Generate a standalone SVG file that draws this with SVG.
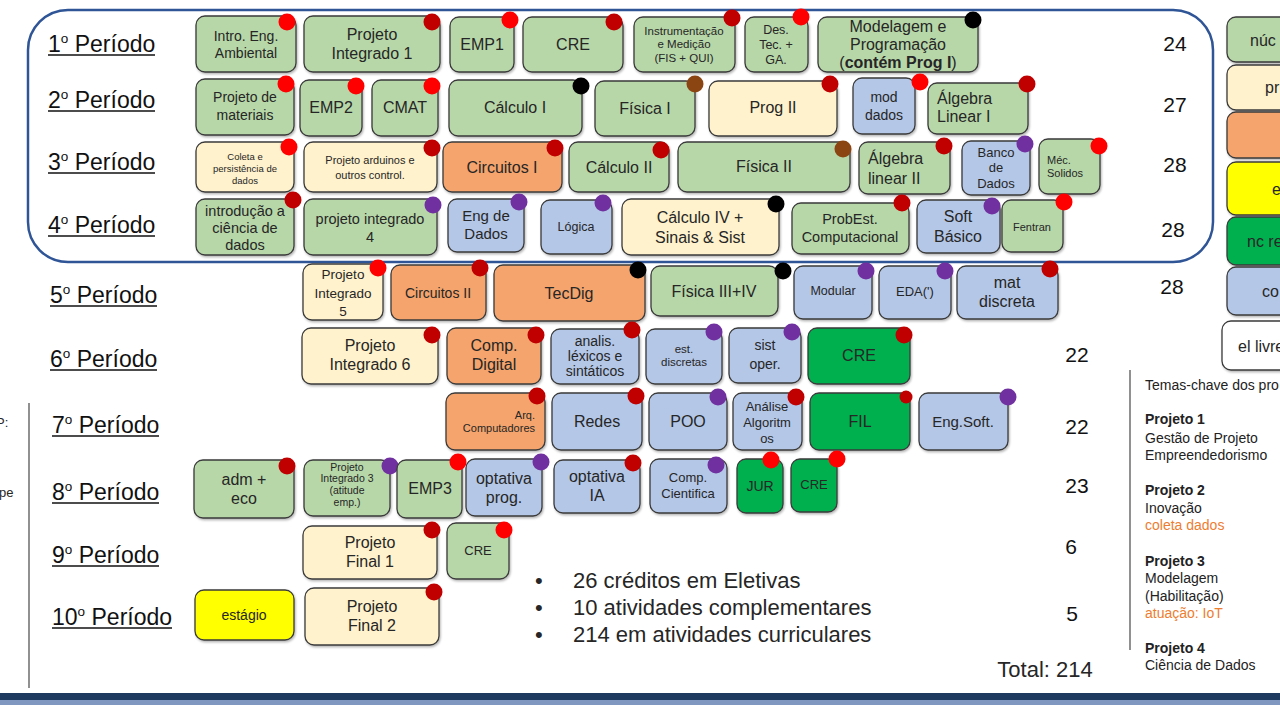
<svg xmlns="http://www.w3.org/2000/svg" width="1280" height="705" viewBox="0 0 1280 705">
<defs>
<filter id="sh" x="-10%" y="-10%" width="120%" height="130%"><feDropShadow dx="1" dy="1.5" stdDeviation="1" flood-color="#000" flood-opacity="0.3"/></filter>
</defs>
<style>
text{font-family:"Liberation Sans",Arial,sans-serif;fill:#262626;text-anchor:middle}
.nd rect{stroke:#3a3a3a;stroke-width:1.3;filter:url(#sh)}
.g{fill:#b7d7a8}.c{fill:#fff2cc}.o{fill:#f4a46c}.b{fill:#b4c7e7}.y{fill:#ffff00}.d{fill:#00b050}.w{fill:#ffffff}
.r{fill:#ff0000}.dr{fill:#c00000}.k{fill:#000000}.br{fill:#8b4513}.p{fill:#7030a0}
.per{font-size:23px;text-anchor:start;fill:#111}
.ul{stroke:#111;stroke-width:1.6}
.num{font-size:21px;fill:#111}
.rt{font-size:14px;text-anchor:start;fill:#222}
.rb{font-weight:bold}
.or{fill:#ed7d31}
.f16{font-size:16px}
</style>
<rect x="0" y="0" width="1280" height="705" fill="#ffffff"/>

<rect x="28" y="10" width="1185" height="252" rx="40" fill="none" stroke="#2f5597" stroke-width="2.5"/>
<line x1="29" y1="403" x2="29" y2="688" stroke="#555" stroke-width="1.3"/>
<line x1="1130" y1="370" x2="1130" y2="650" stroke="#555" stroke-width="1.3"/>
<rect x="0" y="693" width="1280" height="7" fill="#1e3a5f"/>
<rect x="0" y="700" width="1280" height="5" fill="#8098c0"/>

<g id="period-labels">
<text class="per" x="48" y="52">1<tspan font-size="13.5" dy="-9">o</tspan><tspan dy="9"> Período</tspan></text><line class="ul" x1="48" y1="55" x2="155" y2="55"/>
<text class="per" x="48" y="108">2<tspan font-size="13.5" dy="-9">o</tspan><tspan dy="9"> Período</tspan></text><line class="ul" x1="48" y1="111" x2="155" y2="111"/>
<text class="per" x="48" y="170">3<tspan font-size="13.5" dy="-9">o</tspan><tspan dy="9"> Período</tspan></text><line class="ul" x1="48" y1="173" x2="155" y2="173"/>
<text class="per" x="48" y="233">4<tspan font-size="13.5" dy="-9">o</tspan><tspan dy="9"> Período</tspan></text><line class="ul" x1="48" y1="236" x2="155" y2="236"/>
<text class="per" x="50" y="303">5<tspan font-size="13.5" dy="-9">o</tspan><tspan dy="9"> Período</tspan></text><line class="ul" x1="50" y1="306" x2="157" y2="306"/>
<text class="per" x="50" y="367">6<tspan font-size="13.5" dy="-9">o</tspan><tspan dy="9"> Período</tspan></text><line class="ul" x1="50" y1="370" x2="157" y2="370"/>
<text class="per" x="52" y="433">7<tspan font-size="13.5" dy="-9">o</tspan><tspan dy="9"> Período</tspan></text><line class="ul" x1="52" y1="436" x2="159" y2="436"/>
<text class="per" x="52" y="500">8<tspan font-size="13.5" dy="-9">o</tspan><tspan dy="9"> Período</tspan></text><line class="ul" x1="52" y1="503" x2="159" y2="503"/>
<text class="per" x="52" y="563">9<tspan font-size="13.5" dy="-9">o</tspan><tspan dy="9"> Período</tspan></text><line class="ul" x1="52" y1="566" x2="159" y2="566"/>
<text class="per" x="52" y="625">10<tspan font-size="13.5" dy="-9">o</tspan><tspan dy="9"> Período</tspan></text><line class="ul" x1="52" y1="628" x2="172" y2="628"/>
</g>

<g id="credits">
<text class="num" x="1175" y="51">24</text>
<text class="num" x="1175" y="112">27</text>
<text class="num" x="1175" y="172">28</text>
<text class="num" x="1173" y="237">28</text>
<text class="num" x="1172" y="294">28</text>
<text class="num" x="1077" y="362">22</text>
<text class="num" x="1077" y="434">22</text>
<text class="num" x="1077" y="493">23</text>
<text class="num" x="1071" y="554">6</text>
<text class="num" x="1072" y="621">5</text>
<text x="1045" y="677" font-size="22" fill="#111">Total: 214</text>
</g>

<g id="connectors"></g>

<!-- Row 1 -->
<g id="n-intro-eng" class="nd"><rect class="g" x="196" y="16" width="100" height="56" rx="9"/><text font-size="14"><tspan x="246" y="41">Intro. Eng.</tspan><tspan x="246" y="58">Ambiental</tspan></text><circle class="r" cx="287" cy="22" r="8.5"/></g>
<g id="n-pi1" class="nd"><rect class="g" x="304" y="16" width="136" height="56" rx="9"/><text class="f16"><tspan x="372" y="40">Projeto</tspan><tspan x="372" y="59">Integrado 1</tspan></text><circle class="dr" cx="432" cy="22" r="8.5"/></g>
<g id="n-emp1" class="nd"><rect class="g" x="450" y="17" width="64" height="55" rx="9"/><text class="f16" x="482" y="50">EMP1</text><circle class="r" cx="510" cy="20" r="8.5"/></g>
<g id="n-cre1" class="nd"><rect class="g" x="523" y="17" width="100" height="55" rx="9"/><text class="f16" x="573" y="50">CRE</text><circle class="dr" cx="614" cy="22" r="8.5"/></g>
<g id="n-instr" class="nd"><rect class="g" x="634" y="17" width="101" height="55" rx="9"/><text font-size="11.5"><tspan x="684" y="35">Instrumentação</tspan><tspan x="684" y="48">e Medição</tspan><tspan x="684" y="62">(FIS + QUI)</tspan></text><circle class="dr" cx="732" cy="18" r="8.5"/></g>
<g id="n-destec" class="nd"><rect class="g" x="745" y="17" width="63" height="55" rx="9"/><text font-size="12.5"><tspan x="776" y="34">Des.</tspan><tspan x="776" y="49">Tec. +</tspan><tspan x="776" y="64">GA.</tspan></text><circle class="r" cx="801" cy="17" r="8.5"/></g>
<g id="n-modprog" class="nd"><rect class="g" x="818" y="17" width="160" height="55" rx="9"/><text class="f16"><tspan x="898" y="32">Modelagem e</tspan><tspan x="898" y="50">Programação</tspan><tspan x="898" y="68">(<tspan font-weight="bold">contém Prog I</tspan>)</tspan></text><circle class="k" cx="973" cy="20" r="8.5"/></g>

<!-- Row 2 -->
<g id="n-projmat" class="nd"><rect class="g" x="196" y="79" width="98" height="56" rx="9"/><text font-size="14"><tspan x="245" y="102">Projeto de</tspan><tspan x="245" y="120">materiais</tspan></text><circle class="r" cx="286" cy="84" r="8.5"/></g>
<g id="n-emp2" class="nd"><rect class="g" x="300" y="80" width="62" height="56" rx="9"/><text class="f16" x="331" y="113">EMP2</text><circle class="r" cx="356" cy="86" r="8.5"/></g>
<g id="n-cmat" class="nd"><rect class="g" x="372" y="80" width="66" height="56" rx="9"/><text class="f16" x="405" y="113">CMAT</text><circle class="r" cx="432" cy="86" r="8.5"/></g>
<g id="n-calc1" class="nd"><rect class="g" x="449" y="80" width="133" height="56" rx="9"/><text class="f16" x="515" y="113">Cálculo I</text><circle class="k" cx="581" cy="86" r="8.5"/></g>
<g id="n-fis1" class="nd"><rect class="g" x="595" y="81" width="100" height="55" rx="9"/><text class="f16" x="645" y="114">Física I</text><circle class="br" cx="695" cy="84" r="8.5"/></g>
<g id="n-prog2" class="nd"><rect class="c" x="709" y="81" width="128" height="55" rx="9"/><text class="f16" x="773" y="113">Prog II</text><circle class="dr" cx="830" cy="84" r="8.5"/></g>
<g id="n-moddados" class="nd"><rect class="b" x="853" y="78" width="62" height="56" rx="9"/><text font-size="14"><tspan x="884" y="102">mod</tspan><tspan x="884" y="120">dados</tspan></text><circle class="r" cx="920" cy="82" r="8.5"/></g>
<g id="n-alg1" class="nd"><rect class="g" x="928" y="83" width="100" height="51" rx="9"/><text class="f16" style="text-anchor:start"><tspan x="937" y="104">Álgebra</tspan><tspan x="937" y="122">Linear I</tspan></text><circle class="dr" cx="1027" cy="84" r="8.5"/></g>

<!-- Row 3 -->
<g id="n-coleta" class="nd"><rect class="c" x="196" y="142" width="98" height="50" rx="9"/><text font-size="9.5"><tspan x="245" y="160">Coleta e</tspan><tspan x="245" y="172">persistência de</tspan><tspan x="245" y="184">dados</tspan></text><circle class="r" cx="289" cy="147" r="8.5"/></g>
<g id="n-arduino" class="nd"><rect class="c" x="304" y="142" width="133" height="50" rx="9"/><text font-size="11"><tspan x="370" y="164">Projeto arduinos e</tspan><tspan x="370" y="179">outros control.</tspan></text><circle class="dr" cx="432" cy="148" r="8.5"/></g>
<g id="n-circ1" class="nd"><rect class="o" x="443" y="142" width="119" height="50" rx="9"/><text class="f16" x="502" y="173">Circuitos I</text><circle class="dr" cx="555" cy="148" r="8.5"/></g>
<g id="n-calc2" class="nd"><rect class="g" x="569" y="142" width="100" height="50" rx="9"/><text class="f16" x="619" y="173">Cálculo II</text><circle class="dr" cx="661" cy="150" r="8.5"/></g>
<g id="n-fis2" class="nd"><rect class="g" x="678" y="142" width="172" height="50" rx="9"/><text class="f16" x="764" y="172">Física II</text><circle class="br" cx="843" cy="149" r="8.5"/></g>
<g id="n-alg2" class="nd"><rect class="g" x="859" y="142" width="91" height="52" rx="9"/><text class="f16" style="text-anchor:start"><tspan x="868" y="164">Álgebra</tspan><tspan x="868" y="184">linear II</tspan></text><circle class="dr" cx="944" cy="146" r="8.5"/></g>
<g id="n-bd" class="nd"><rect class="b" x="962" y="141" width="68" height="54" rx="9"/><text font-size="13"><tspan x="996" y="157">Banco</tspan><tspan x="996" y="172">de</tspan><tspan x="996" y="188">Dados</tspan></text><circle class="p" cx="1025" cy="144" r="8.5"/></g>
<g id="n-mec" class="nd"><rect class="g" x="1039" y="139" width="61" height="55" rx="9"/><text font-size="11" style="text-anchor:start"><tspan x="1047" y="164">Méc.</tspan><tspan x="1047" y="177">Solidos</tspan></text><circle class="r" cx="1099" cy="146" r="8.5"/></g>

<!-- Row 4 -->
<g id="n-icd" class="nd"><rect class="g" x="196" y="199" width="98" height="56" rx="9"/><text font-size="14.5"><tspan x="245" y="216">introdução a</tspan><tspan x="245" y="233">ciência de</tspan><tspan x="245" y="250">dados</tspan></text><circle class="dr" cx="293" cy="200" r="8.5"/></g>
<g id="n-pi4" class="nd"><rect class="g" x="304" y="199" width="133" height="56" rx="9"/><text font-size="14.5"><tspan x="370" y="224">projeto integrado</tspan><tspan x="370" y="242">4</tspan></text><circle class="p" cx="433" cy="205" r="8.5"/></g>
<g id="n-engdados" class="nd"><rect class="b" x="448" y="199" width="76" height="53" rx="9"/><text font-size="15"><tspan x="486" y="221">Eng de</tspan><tspan x="486" y="239">Dados</tspan></text><circle class="p" cx="519" cy="202" r="8.5"/></g>
<g id="n-logica" class="nd"><rect class="b" x="541" y="200" width="71" height="54" rx="9"/><text font-size="12.5" x="576" y="231">Lógica</text><circle class="p" cx="603" cy="203" r="8.5"/></g>
<g id="n-calc4" class="nd"><rect class="c" x="622" y="199" width="157" height="56" rx="9"/><text class="f16"><tspan x="700" y="223">Cálculo IV +</tspan><tspan x="700" y="243">Sinais &amp; Sist</tspan></text><circle class="k" cx="776" cy="204" r="8.5"/></g>
<g id="n-probest" class="nd"><rect class="g" x="792" y="203" width="117" height="51" rx="9"/><text font-size="14.5"><tspan x="850" y="224">ProbEst.</tspan><tspan x="850" y="242">Computacional</tspan></text><circle class="dr" cx="902" cy="203" r="8.5"/></g>
<g id="n-softbas" class="nd"><rect class="b" x="917" y="200" width="83" height="53" rx="9"/><text class="f16"><tspan x="958" y="222">Soft</tspan><tspan x="958" y="242">Básico</tspan></text><circle class="p" cx="992" cy="206" r="8.5"/></g>
<g id="n-fentran" class="nd"><rect class="g" x="1002" y="200" width="61" height="52" rx="9"/><text font-size="11" x="1032" y="231">Fentran</text><circle class="r" cx="1064" cy="202" r="8.5"/></g>

<!-- Row 5 -->
<g id="n-pi5" class="nd"><rect class="c" x="303" y="264" width="80" height="56" rx="9"/><text font-size="13.5"><tspan x="343" y="279">Projeto</tspan><tspan x="343" y="298">Integrado</tspan><tspan x="343" y="316">5</tspan></text><circle class="r" cx="378" cy="268" r="8.5"/></g>
<g id="n-circ2" class="nd"><rect class="o" x="391" y="265" width="95" height="55" rx="9"/><text font-size="14" x="438" y="298">Circuitos II</text><circle class="dr" cx="480" cy="268" r="8.5"/></g>
<g id="n-tecdig" class="nd"><rect class="o" x="494" y="265" width="151" height="56" rx="9"/><text class="f16" x="569" y="299">TecDig</text><circle class="k" cx="638" cy="270" r="8.5"/></g>
<g id="n-fis34" class="nd"><rect class="g" x="651" y="266" width="127" height="50" rx="9"/><text class="f16" x="714" y="297">Física III+IV</text><circle class="k" cx="783" cy="271" r="8.5"/></g>
<g id="n-modular" class="nd"><rect class="b" x="794" y="266" width="78" height="53" rx="9"/><text font-size="12.5" x="833" y="295">Modular</text><circle class="p" cx="866" cy="271" r="8.5"/></g>
<g id="n-eda" class="nd"><rect class="b" x="879" y="266" width="72" height="53" rx="9"/><text font-size="13" x="915" y="296">EDA(')</text><circle class="p" cx="945" cy="271" r="8.5"/></g>
<g id="n-matdisc" class="nd"><rect class="b" x="957" y="266" width="101" height="53" rx="9"/><text class="f16"><tspan x="1007" y="288">mat</tspan><tspan x="1007" y="307">discreta</tspan></text><circle class="dr" cx="1050" cy="269" r="8.5"/></g>

<!-- Row 6 -->
<g id="n-pi6" class="nd"><rect class="c" x="302" y="328" width="136" height="56" rx="9"/><text class="f16"><tspan x="370" y="351">Projeto</tspan><tspan x="370" y="370">Integrado 6</tspan></text><circle class="dr" cx="432" cy="335" r="8.5"/></g>
<g id="n-compdig" class="nd"><rect class="o" x="447" y="328" width="94" height="56" rx="9"/><text class="f16"><tspan x="494" y="351">Comp.</tspan><tspan x="494" y="370">Digital</tspan></text><circle class="dr" cx="536" cy="335" r="8.5"/></g>
<g id="n-analis" class="nd"><rect class="b" x="551" y="329" width="88" height="55" rx="9"/><text font-size="14"><tspan x="595" y="346">analis.</tspan><tspan x="595" y="361">léxicos e</tspan><tspan x="595" y="376">sintáticos</tspan></text><circle class="dr" cx="632" cy="330" r="8.5"/></g>
<g id="n-estdisc" class="nd"><rect class="b" x="646" y="329" width="76" height="55" rx="9"/><text font-size="11.5"><tspan x="684" y="353">est.</tspan><tspan x="684" y="366">discretas</tspan></text><circle class="p" cx="714" cy="332" r="8.5"/></g>
<g id="n-sistop" class="nd"><rect class="b" x="729" y="328" width="72" height="55" rx="9"/><text font-size="14"><tspan x="765" y="350">sist</tspan><tspan x="765" y="369">oper.</tspan></text><circle class="p" cx="792" cy="332" r="8.5"/></g>
<g id="n-cre6" class="nd"><rect class="d" x="808" y="328" width="102" height="56" rx="9"/><text class="f16" x="859" y="361">CRE</text><circle class="dr" cx="904" cy="335" r="8.5"/></g>

<!-- Row 7 -->
<g id="n-arq" class="nd"><rect class="o" x="446" y="393" width="99" height="57" rx="9"/><text font-size="11" style="text-anchor:end"><tspan x="535" y="419">Arq.</tspan><tspan x="535" y="432">Computadores</tspan></text><circle class="dr" cx="537" cy="396" r="8.5"/></g>
<g id="n-redes" class="nd"><rect class="b" x="552" y="393" width="90" height="57" rx="9"/><text class="f16" x="597" y="427">Redes</text><circle class="dr" cx="636" cy="396" r="8.5"/></g>
<g id="n-poo" class="nd"><rect class="b" x="649" y="393" width="78" height="57" rx="9"/><text class="f16" x="688" y="427">POO</text><circle class="p" cx="718" cy="397" r="8.5"/></g>
<g id="n-analg" class="nd"><rect class="b" x="733" y="393" width="69" height="57" rx="9"/><text font-size="13"><tspan x="767" y="411">Análise</tspan><tspan x="767" y="427">Algoritm</tspan><tspan x="767" y="443">os</tspan></text><circle class="dr" cx="796" cy="397" r="8.5"/></g>
<g id="n-fil" class="nd"><rect class="d" x="810" y="393" width="100" height="57" rx="9"/><text class="f16" x="860" y="427">FIL</text><circle class="dr" cx="906" cy="397" r="6.5"/></g>
<g id="n-engsoft" class="nd"><rect class="b" x="919" y="393" width="89" height="57" rx="9"/><text font-size="15" x="963" y="427">Eng.Soft.</text><circle class="p" cx="1008" cy="397" r="8.5"/></g>

<!-- Row 8 -->
<g id="n-adm" class="nd"><rect class="g" x="194" y="460" width="100" height="58" rx="9"/><text class="f16"><tspan x="244" y="485">adm +</tspan><tspan x="244" y="504">eco</tspan></text><circle class="dr" cx="287" cy="466" r="8.5"/></g>
<g id="n-pi3" class="nd"><rect class="g" x="304" y="460" width="86" height="56" rx="9"/><text font-size="10.5"><tspan x="347" y="471">Projeto</tspan><tspan x="347" y="482">Integrado 3</tspan><tspan x="347" y="494">(atitude</tspan><tspan x="347" y="506">emp.)</tspan></text><circle class="p" cx="390" cy="466" r="8.5"/></g>
<g id="n-emp3" class="nd"><rect class="g" x="397" y="460" width="65" height="58" rx="9"/><text class="f16" x="430" y="494">EMP3</text><circle class="r" cx="458" cy="462" r="8.5"/></g>
<g id="n-optprog" class="nd"><rect class="b" x="466" y="459" width="76" height="57" rx="9"/><text class="f16"><tspan x="504" y="484">optativa</tspan><tspan x="504" y="503">prog.</tspan></text><circle class="p" cx="541" cy="462" r="8.5"/></g>
<g id="n-optia" class="nd"><rect class="b" x="554" y="460" width="86" height="53" rx="9"/><text class="f16"><tspan x="597" y="482">optativa</tspan><tspan x="597" y="501">IA</tspan></text><circle class="dr" cx="633" cy="463" r="8.5"/></g>
<g id="n-compcient" class="nd"><rect class="b" x="650" y="459" width="77" height="54" rx="9"/><text font-size="13"><tspan x="688" y="482">Comp.</tspan><tspan x="688" y="498">Cientifica</tspan></text><circle class="p" cx="716" cy="465" r="8.5"/></g>
<g id="n-jur" class="nd"><rect class="d" x="737" y="459" width="46" height="54" rx="9"/><text font-size="14" x="760" y="491">JUR</text><circle class="r" cx="771" cy="460" r="8.5"/></g>
<g id="n-cre8" class="nd"><rect class="d" x="791" y="459" width="46" height="53" rx="9"/><text font-size="13" x="814" y="489">CRE</text><circle class="r" cx="837" cy="459" r="8.5"/></g>

<!-- Row 9 -->
<g id="n-pf1" class="nd"><rect class="c" x="303" y="526" width="134" height="53" rx="9"/><text class="f16"><tspan x="370" y="548">Projeto</tspan><tspan x="370" y="567">Final 1</tspan></text><circle class="dr" cx="432" cy="530" r="8.5"/></g>
<g id="n-cre9" class="nd"><rect class="g" x="447" y="523" width="62" height="56" rx="9"/><text font-size="13" x="478" y="555">CRE</text><circle class="r" cx="504" cy="530" r="8.5"/></g>

<!-- Row 10 -->
<g id="n-estagio" class="nd"><rect class="y" x="195" y="590" width="99" height="50" rx="9"/><text font-size="14" x="244" y="620">estágio</text></g>
<g id="n-pf2" class="nd"><rect class="c" x="305" y="588" width="134" height="57" rx="9"/><text class="f16"><tspan x="372" y="612">Projeto</tspan><tspan x="372" y="631">Final 2</tspan></text><circle class="dr" cx="434" cy="592" r="8.5"/></g>

<g id="bullets">
<text font-size="22" style="text-anchor:start" fill="#111"><tspan x="535" y="588">•</tspan><tspan x="573" y="588">26 créditos em Eletivas</tspan></text>
<text font-size="22" style="text-anchor:start" fill="#111"><tspan x="535" y="615">•</tspan><tspan x="573" y="615">10 atividades complementares</tspan></text>
<text font-size="22" style="text-anchor:start" fill="#111"><tspan x="535" y="642">•</tspan><tspan x="573" y="642">214 em atividades curriculares</tspan></text>
</g>

<g id="legend" class="nd">
<rect class="g" x="1227" y="17" width="80" height="45" rx="9"/><text class="f16" x="1250" y="46" style="text-anchor:start">núc</text>
<rect class="c" x="1227" y="65" width="80" height="45" rx="9"/><text class="f16" x="1265" y="93" style="text-anchor:start">pr</text>
<rect class="o" x="1227" y="112" width="80" height="46" rx="9"/>
<rect class="y" x="1227" y="162" width="80" height="53" rx="9"/><text class="f16" x="1272" y="195" style="text-anchor:start">e</text>
<rect class="d" x="1227" y="217" width="80" height="48" rx="9"/><text class="f16" x="1247" y="247" style="text-anchor:start">nc re</text>
<rect class="b" x="1227" y="267" width="80" height="48" rx="9"/><text class="f16" x="1262" y="297" style="text-anchor:start">co</text>
<rect class="w" x="1222" y="321" width="85" height="49" rx="9"/><text class="f16" x="1238" y="352" style="text-anchor:start">el livre</text>
</g>

<g id="themes">
<text class="rt" x="1145" y="390">Temas-chave dos pro</text>
<text class="rt rb" x="1145" y="424">Projeto 1</text>
<text class="rt" x="1145" y="443">Gestão de Projeto</text>
<text class="rt" x="1145" y="460">Empreendedorismo</text>
<text class="rt rb" x="1145" y="495">Projeto 2</text>
<text class="rt" x="1145" y="513">Inovação</text>
<text class="rt or" x="1145" y="530">coleta dados</text>
<text class="rt rb" x="1145" y="566">Projeto 3</text>
<text class="rt" x="1145" y="583">Modelagem</text>
<text class="rt" x="1145" y="601">(Habilitação)</text>
<text class="rt or" x="1145" y="618">atuação: IoT</text>
<text class="rt rb" x="1145" y="653">Projeto 4</text>
<text class="rt" x="1145" y="670">Ciência de Dados</text>
</g>

<g id="edge-text">
<text font-size="13" x="-4" y="427" style="text-anchor:start">P:</text>
<text font-size="13" x="-1" y="497" style="text-anchor:start">pe</text>
</g>
</svg>
